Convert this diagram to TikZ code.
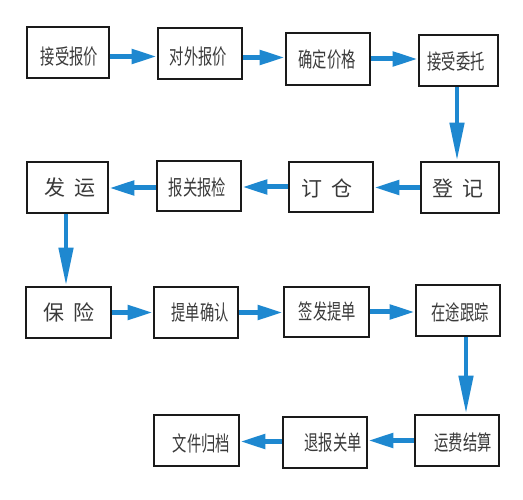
\documentclass[tikz,border=0pt]{standalone}
\usepackage{fontspec}
\newfontfamily\cjk{Noto Sans CJK SC}
\usetikzlibrary{arrows.meta,calc}
\definecolor{arrowblue}{HTML}{1E88D0}
\definecolor{boxline}{HTML}{1A1A1A}
\definecolor{txtgray}{HTML}{3A3A3A}
\newcommand{\cn}[1]{\scalebox{0.68}[1]{\cjk #1}}
\begin{document}
\begin{tikzpicture}[x=1pt,y=-1pt,
  box/.style={draw=boxline,line width=2.6pt,fill=white,inner sep=0pt},
  lbl/.style={text=txtgray,font=\fontsize{21pt}{23pt}\selectfont,inner sep=0pt},
  harrow/.style={draw=arrowblue,line width=5pt,-{Triangle[length=25pt,width=14pt]}},
  varrow/.style={draw=arrowblue,line width=4.5pt,-{Triangle[length=38pt,width=14pt]}}]
\useasboundingbox (0,0) rectangle (523,500);
\fill[white] (0,0) rectangle (523,500);
% boxes: row 1
\node[box,minimum width=82pt,minimum height=51pt] (b1) at (68,52.5) {};
\node[box,minimum width=84pt,minimum height=51pt] (b2) at (200,53.5) {};
\node[box,minimum width=84pt,minimum height=52pt] (b3) at (328,59) {};
\node[box,minimum width=79pt,minimum height=51pt] (b4) at (458.5,60.5) {};
% row 2
\node[box,minimum width=81pt,minimum height=51pt] (c1) at (67.5,187.5) {};
\node[box,minimum width=84pt,minimum height=50pt] (c2) at (199,186) {};
\node[box,minimum width=84pt,minimum height=50pt] (c3) at (331,187) {};
\node[box,minimum width=78pt,minimum height=51pt] (c4) at (460,187.5) {};
% row 3
\node[box,minimum width=85pt,minimum height=51pt] (d1) at (68.5,312.5) {};
\node[box,minimum width=84pt,minimum height=51pt] (d2) at (196,312.5) {};
\node[box,minimum width=85pt,minimum height=50pt] (d3) at (326.5,312) {};
\node[box,minimum width=84pt,minimum height=51pt] (d4) at (458,310.5) {};
% row 4
\node[box,minimum width=85pt,minimum height=51pt] (e1) at (196.5,440.5) {};
\node[box,minimum width=84pt,minimum height=51pt] (e2) at (325,442.5) {};
\node[box,minimum width=84pt,minimum height=51pt] (e3) at (457,440.5) {};
% labels
\node[lbl] (t1) at (69.5,57) {\cn{接受报价}};
\node[lbl] (t2) at (198.5,57) {\cn{对外报价}};
\node[lbl] (t3) at (327,60) {\cn{确定价格}};
\node[lbl] (t4) at (456,62) {\cn{接受委托}};
\node[lbl] (u1) at (70,188) {\cjk 发\hspace{9pt}运};
\node[lbl] (u2) at (197.5,187) {\cn{报关报检}};
\node[lbl] (u3) at (327,188) {\cjk 订\hspace{9pt}仓};
\node[lbl] (u4) at (458,188) {\cjk 登\hspace{9pt}记};
\node[lbl] (v1) at (69,312) {\cjk 保\hspace{9pt}险};
\node[lbl] (v2) at (200,312) {\cn{提单确认}};
\node[lbl] (v3) at (327.5,311) {\cn{签发提单}};
\node[lbl] (v4) at (460,312) {\cn{在途跟踪}};
\node[lbl] (w1) at (201.5,443) {\cn{文件归档}};
\node[lbl] (w2) at (333,443) {\cn{退报关单}};
\node[lbl] (w3) at (463,443) {\cn{运费结算}};
% arrows
\draw[harrow] ($(b1.east)+(0,4)$) -- ($(b1.east -| b2.west)+(0,4)$);
\draw[harrow] ($(b2.east)+(0,4)$) -- ($(b2.east -| b3.west)+(0,4)$);
\draw[harrow] (b3.east) -- (b3.east -| b4.west);
\draw[varrow] ([xshift=-1.5pt]b4.south) -- ([xshift=-1.5pt]b4.south |- c4.north);
\draw[harrow] (c4.west) -- (c4.west -| c3.east);
\draw[harrow] (c3.west) -- (c3.west -| c2.east);
\draw[harrow] ($(c2.west)+(0,2)$) -- ($(c2.west -| c1.east)+(0,2)$);
\draw[varrow] ([xshift=-1.5pt]c1.south) -- ([xshift=-1.5pt]c1.south |- d1.north);
\draw[harrow] (d1.east) -- (d1.east -| d2.west);
\draw[harrow] (d2.east) -- (d2.east -| d3.west);
\draw[harrow] (d3.east) -- (d3.east -| d4.west);
\draw[varrow] ([xshift=8pt]d4.south) -- ([xshift=8pt]d4.south |- e3.north);
\draw[harrow] (e3.west) -- (e3.west -| e2.east);
\draw[harrow] ($(e2.west)+(0,-1)$) -- ($(e2.west -| e1.east)+(0,-1)$);
\end{tikzpicture}
\end{document}
